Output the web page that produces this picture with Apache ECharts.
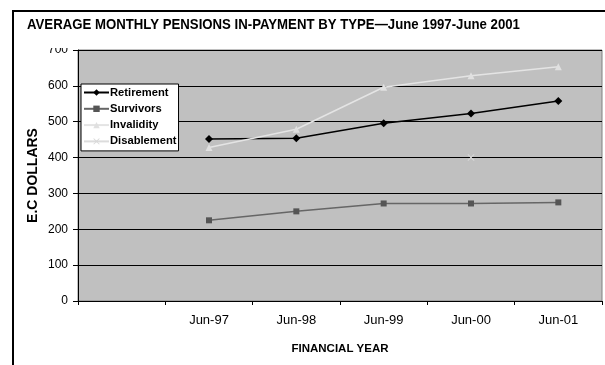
<!DOCTYPE html>
<html>
<head>
<meta charset="utf-8">
<style>
  html, body { margin: 0; padding: 0; background: #fff; }
  #chart { width: 605px; height: 365px; }
</style>
<script src="https://cdn.jsdelivr.net/npm/echarts@6/dist/echarts.min.js"></script>
</head>
<body>
<div id="chart"></div>
<script>
// Financial years (first slot left blank, as in the original layout)
const categories = ['', 'Jun-97', 'Jun-98', 'Jun-99', 'Jun-00', 'Jun-01'];

// Average monthly pension in E.C dollars
const retirement  = [null, 452, 454, 496, 523, 558];
const survivors   = [null, 225, 250, 272, 272, 275];
const invalidity  = [null, 428, 479, 596, 628, 653];
const disablement = [null, null, null, null, 400, null];

const yTicks = { min: 0, max: 700, interval: 100 };

const FONT = '"Liberation Sans", Arial, sans-serif';
const crossPath = 'path://M0,1L1,0L5,4L9,0L10,1L6,5L10,9L9,10L5,6L1,10L0,9L4,5Z';

const chart = echarts.init(document.getElementById('chart'), null, { renderer: 'canvas' });

chart.setOption({
  animation: false,
  backgroundColor: '#fff',
  textStyle: { fontFamily: FONT },
  graphic: [
    {
      // outer chart frame
      type: 'rect',
      silent: true,
      z: 0,
      shape: { x: 13, y: 11, width: 700, height: 500 },
      style: { fill: null, stroke: '#000', lineWidth: 2 }
    },
    {
      // chart title, set slightly condensed
      type: 'text',
      silent: true,
      z: 100,
      x: 27,
      y: 25,
      scaleX: 0.88,
      style: {
        x: 0, y: 0,
        text: 'AVERAGE MONTHLY PENSIONS IN-PAYMENT BY TYPE\u2014June 1997-June 2001',
        fontFamily: FONT, fontSize: 15, fontWeight: 'bold',
        fill: '#000', align: 'left', verticalAlign: 'middle'
      }
    },
    {
      // title band covers the top of the highest tick label
      type: 'rect',
      silent: true,
      z: 99,
      shape: { x: 38, y: 36, width: 36, height: 12 },
      style: { fill: '#fff' }
    }
  ],
  legend: {
    orient: 'vertical',
    left: 81,
    top: 84,
    backgroundColor: '#fff',
    borderColor: '#000',
    borderWidth: 1,
    padding: [2, 2, 3, 2],
    itemGap: 3.3,
    itemWidth: 25,
    itemHeight: 8,
    textStyle: {
      fontFamily: FONT, fontSize: 11.2, fontWeight: 'bold', color: '#000',
      lineHeight: 13, padding: [0, 0, 0, -4]
    },
    data: ['Retirement', 'Survivors', 'Invalidity', 'Disablement']
  },
  grid: {
    left: 78, top: 50, right: 3, bottom: 64,
    show: true,
    backgroundColor: '#c0c0c0',
    borderColor: '#808080',
    borderWidth: 1
  },
  xAxis: {
    type: 'category',
    data: categories,
    boundaryGap: true,
    name: 'FINANCIAL YEAR',
    nameLocation: 'middle',
    nameGap: 42,
    nameMoveOverlap: false,
    nameTextStyle: { fontFamily: FONT, fontSize: 11.5, fontWeight: 'bold', color: '#000' },
    axisLine: { lineStyle: { color: '#000', width: 1 } },
    axisTick: { show: true, length: 4, interval: 0, lineStyle: { color: '#000' } },
    axisLabel: { fontFamily: FONT, fontSize: 13, color: '#000', margin: 13, interval: 0 },
    splitLine: { show: false }
  },
  yAxis: {
    type: 'value',
    min: yTicks.min,
    max: yTicks.max,
    interval: yTicks.interval,
    name: 'E.C DOLLARS',
    nameLocation: 'middle',
    nameGap: 38,
    nameMoveOverlap: false,
    nameTextStyle: { fontFamily: FONT, fontSize: 14, fontWeight: 'bold', color: '#000' },
    axisLine: { show: true, lineStyle: { color: '#000', width: 1 } },
    axisTick: { show: true, length: 5, lineStyle: { color: '#000' } },
    axisLabel: { fontFamily: FONT, fontSize: 12, color: '#000', margin: 10 },
    splitLine: { show: true, lineStyle: { color: '#000', width: 1 } }
  },
  series: [
    {
      name: 'Retirement', type: 'line', data: retirement,
      symbol: 'diamond', symbolSize: 8, showAllSymbol: true,
      lineStyle: { color: '#000', width: 1.5 },
      itemStyle: { color: '#000' }
    },
    {
      name: 'Survivors', type: 'line', data: survivors,
      symbol: 'rect', symbolSize: 6, showAllSymbol: true,
      lineStyle: { color: '#666', width: 1.5 },
      itemStyle: { color: '#555' }
    },
    {
      name: 'Invalidity', type: 'line', data: invalidity,
      symbol: 'triangle', symbolSize: 7, showAllSymbol: true,
      lineStyle: { color: '#e4e4e4', width: 1.5 },
      itemStyle: { color: '#e0e0e0' }
    },
    {
      name: 'Disablement', type: 'line', data: disablement,
      symbol: crossPath, symbolSize: 7, showAllSymbol: true,
      lineStyle: { color: '#dcdcdc', width: 1.5 },
      itemStyle: { color: '#d8d8d8' }
    }
  ]
});
</script>
</body>
</html>
